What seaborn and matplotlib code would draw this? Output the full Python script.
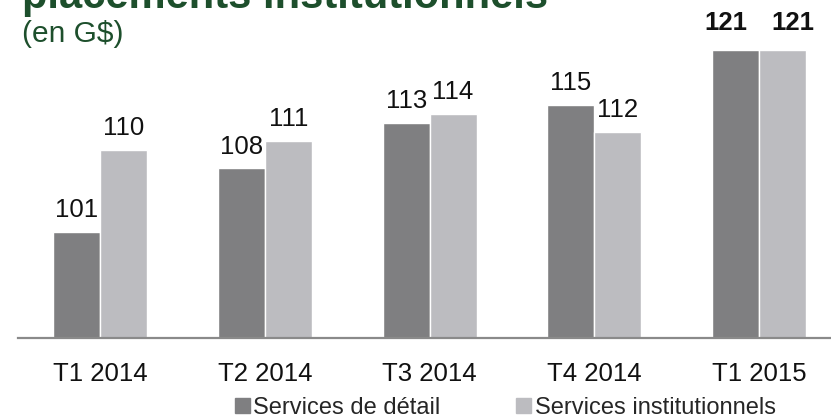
import pandas as pd
import numpy as np
import matplotlib
matplotlib.use("Agg")
import matplotlib.pyplot as plt
import seaborn as sns

# data (G$)
quarters = ["T1 2014", "T2 2014", "T3 2014", "T4 2014", "T1 2015"]
detail = [101, 108, 113, 115, 121]
institutionnel = [110, 111, 114, 112, 121]
series_names = ["Services de détail", "Services institutionnels"]

title = "placements institutionnels"
subtitle = "(en G$)"

green = "#1d4f2c"
bar_colors = ["#7f7f81", "#bcbcc0"]

df = pd.DataFrame({
    "Trimestre": quarters * 2,
    "Valeur": detail + institutionnel,
    "Serie": [series_names[0]] * len(quarters) + [series_names[1]] * len(quarters),
})

sns.set_style("white")
plt.rcParams["font.family"] = ["Liberation Sans", "DejaVu Sans"]

fig = plt.figure(figsize=(8.31, 4.19), dpi=100)
ax = fig.add_axes([18 / 831, 81 / 419, 1 - 18 / 831, 288 / 419])

sns.barplot(data=df, x="Trimestre", y="Valeur", hue="Serie", palette=bar_colors,
            width=0.57, gap=0, saturation=1, ax=ax, legend=False)

ax.set_ylim(89.35, 121)
ax.set_xlim(-0.4977, 4.4355)
ax.set_xlabel("")
ax.set_ylabel("")
ax.set_yticks([])
ax.tick_params(axis="x", length=0, pad=17, labelsize=18.5, labelcolor="#111111")

for side in ["top", "left", "right"]:
    ax.spines[side].set_visible(False)
ax.spines["bottom"].set_color("#8a8a8a")
ax.spines["bottom"].set_linewidth(1.6)

# value labels, last quarter in bold and pushed apart
shifts = [-7, 7]
for cont, dx in zip(ax.containers, shifts):
    texts = ax.bar_label(cont, fmt="%d", padding=7, fontsize=18.5, color="#111111")
    texts[-1].set_fontweight("bold")
    texts[-1].xyann = (dx, 11)

# titles
fig.text(22 / 831, 1 - 8 / 419, title, fontsize=30, fontweight="bold", color=green,
         ha="left", va="baseline")
fig.text(22 / 831, 1 - 42 / 419, subtitle, fontsize=21.5, color=green,
         ha="left", va="baseline")

# legend
handles = [plt.Rectangle((0, 0), 1, 1, color=c) for c in bar_colors]
ax.legend(handles, series_names, loc="center left", bbox_to_anchor=(235 / 831, 11 / 419),
          bbox_transform=fig.transFigure, ncol=2, frameon=False, fontsize=17,
          handlelength=0.63, handleheight=0.63, handletextpad=0.15, columnspacing=3.2,
          borderpad=0, borderaxespad=0)

fig.savefig("out.png", dpi=100)
